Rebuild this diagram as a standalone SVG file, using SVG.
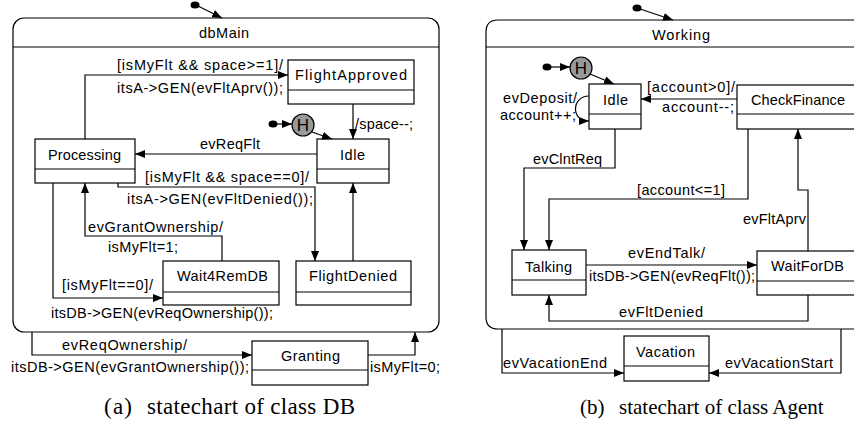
<svg xmlns="http://www.w3.org/2000/svg" width="854" height="431" viewBox="0 0 854 431">
<defs>
<marker id="arr" markerWidth="10" markerHeight="8" refX="10" refY="4" orient="auto" markerUnits="userSpaceOnUse">
<path d="M0,0 L10,4 L0,8 z" fill="#000"/>
</marker>
<style>
.box{fill:#fff;stroke:#000;stroke-width:1.2}
.ln{fill:none;stroke:#000;stroke-width:1.2}
.c{fill:none;stroke:#000;stroke-width:1.2;marker-end:url(#arr)}
.t{font-family:"Liberation Sans",Arial,sans-serif;font-size:14.5px;fill:#000}
.h{font-family:"Liberation Sans",Arial,sans-serif;font-size:17px;fill:#000}
.cap{font-family:"Liberation Serif","Times New Roman",serif;fill:#000}
.dot{fill:#000}
.hist{fill:#999;stroke:#000;stroke-width:1.2}
</style>
</defs>
<rect width="854" height="431" fill="#fff"/>

<!-- Left: statechart of class DB -->
<g id="dbMain">
<rect class="box" x="13" y="18" width="426" height="314" rx="11"/>
<path class="ln" d="M13 47 H439"/>
<text class="t" x="199" y="38" textLength="50">dbMain</text>
</g>
<g id="FlightApproved">
<rect class="box" x="288" y="60" width="126" height="44"/>
<path class="ln" d="M288 90 H414"/>
<text class="t" x="295" y="80" textLength="112">FlightApproved</text>
</g>
<g id="IdleDB">
<rect class="box" x="317" y="139" width="72" height="44"/>
<path class="ln" d="M317 169 H389"/>
<text class="t" x="340" y="160" textLength="25">Idle</text>
</g>
<g id="Processing">
<rect class="box" x="35" y="139" width="100" height="44"/>
<path class="ln" d="M35 169 H135"/>
<text class="t" x="48" y="160" textLength="73">Processing</text>
</g>
<g id="Wait4RemDB">
<rect class="box" x="163" y="261" width="116" height="44"/>
<path class="ln" d="M163 292 H279"/>
<text class="t" x="177" y="281" textLength="91">Wait4RemDB</text>
</g>
<g id="FlightDenied">
<rect class="box" x="296" y="261" width="115" height="44"/>
<path class="ln" d="M296 292 H411"/>
<text class="t" x="309" y="281" textLength="88">FlightDenied</text>
</g>
<g id="Granting">
<rect class="box" x="252" y="341" width="116" height="44"/>
<path class="ln" d="M252 370 H368"/>
<text class="t" x="281" y="361" textLength="59">Granting</text>
</g>
<g id="HistDB">
<ellipse class="dot" cx="273" cy="124" rx="4.5" ry="3.5"/>
<circle class="hist" cx="303" cy="125" r="11"/>
<text class="h" x="303" y="131" text-anchor="middle">H</text>
</g>
<g id="InitDB">
<ellipse class="dot" cx="195" cy="5" rx="4.5" ry="3.5"/>
</g>

<!-- Right: statechart of class Agent -->
<g id="Working">
<path class="box" d="M870 20 H498 Q486 20 486 32 V317 Q486 329 498 329 H870"/>
<path class="ln" d="M486 47 H870"/>
<text class="t" x="652" y="40" textLength="58">Working</text>
</g>
<g id="IdleAgent">
<rect class="box" x="589" y="84" width="52" height="45"/>
<path class="ln" d="M589 114 H641"/>
<text class="t" x="603" y="105" textLength="25">Idle</text>
</g>
<g id="CheckFinance">
<rect class="box" x="737" y="85" width="124" height="44"/>
<path class="ln" d="M737 114 H861"/>
<text class="t" x="751" y="105" textLength="94">CheckFinance</text>
</g>
<g id="Talking">
<rect class="box" x="512" y="250" width="74" height="45"/>
<path class="ln" d="M512 280 H586"/>
<text class="t" x="525" y="272" textLength="47">Talking</text>
</g>
<g id="WaitForDB">
<rect class="box" x="757" y="251" width="104" height="44"/>
<path class="ln" d="M757 281 H861"/>
<text class="t" x="771" y="271" textLength="73">WaitForDB</text>
</g>
<g id="Vacation">
<rect class="box" x="624" y="336" width="85" height="45"/>
<path class="ln" d="M624 366 H709"/>
<text class="t" x="636" y="357" textLength="59">Vacation</text>
</g>
<g id="HistAgent">
<ellipse class="dot" cx="547" cy="67" rx="4.5" ry="3.5"/>
<circle class="hist" cx="581" cy="68" r="11"/>
<text class="h" x="581" y="74" text-anchor="middle">H</text>
</g>
<g id="InitAgent">
<ellipse class="dot" cx="637" cy="8" rx="4.5" ry="3.5"/>
</g>

<g id="connectors">
<!-- left -->
<path class="c" d="M198 6 L222 18"/>
<path class="c" d="M85 139 V75 H288"/>
<path class="c" d="M353 104 V139"/>
<path class="c" d="M277 124 H292"/>
<path class="c" d="M312 132 L332 139"/>
<path class="c" d="M317 154 H135"/>
<path class="c" d="M118 183 V187 H315 V261"/>
<path class="c" d="M353 261 V183"/>
<path class="c" d="M222 261 V236 H85 V183"/>
<path class="c" d="M53 183 V298 H163"/>
<path class="c" d="M32 332 V355 H252"/>
<path class="c" d="M368 355 H415 V332"/>
<!-- right -->
<path class="c" d="M640 9 L673 20"/>
<path class="c" d="M551 67 H570"/>
<path class="c" d="M590 74 L614 84"/>
<path class="c" d="M589 96 C572 96 570 121 589 121"/>
<path class="c" d="M737 99 H641"/>
<path class="c" d="M615 129 V168 H524 V250"/>
<path class="c" d="M748 129 V199 H549 V250"/>
<path class="c" d="M586 265 H757"/>
<path class="c" d="M808 251 V190 H798 V129"/>
<path class="c" d="M808 295 V321 H549 V295"/>
<path class="c" d="M502 329 V373 H624"/>
<path class="c" d="M841 329 V373 H709"/>
</g>

<g id="labels">
<text class="t" x="117" y="70" textLength="166">[isMyFlt &amp;&amp; space&gt;=1]/</text>
<text class="t" x="117" y="93" textLength="166">itsA-&gt;GEN(evFltAprv());</text>
<text class="t" x="355" y="129" textLength="58">/space--;</text>
<text class="t" x="200" y="149" textLength="60">evReqFlt</text>
<text class="t" x="145" y="182" textLength="164">[isMyFlt &amp;&amp; space==0]/</text>
<text class="t" x="127" y="204" textLength="186">itsA-&gt;GEN(evFltDenied());</text>
<text class="t" x="88" y="232" textLength="135">evGrantOwnership/</text>
<text class="t" x="108" y="252" textLength="70">isMyFlt=1;</text>
<text class="t" x="62" y="290" textLength="91">[isMyFlt==0]/</text>
<text class="t" x="51" y="318" textLength="222">itsDB-&gt;GEN(evReqOwnership());</text>
<text class="t" x="62" y="350" textLength="125">evReqOwnership/</text>
<text class="t" x="11" y="372" textLength="238">itsDB-&gt;GEN(evGrantOwnership());</text>
<text class="t" x="370" y="372" textLength="70">isMyFlt=0;</text>

<text class="t" x="503" y="103" textLength="74">evDeposit/</text>
<text class="t" x="500" y="120" textLength="76">account++;</text>
<text class="t" x="647" y="92" textLength="88">[account&gt;0]/</text>
<text class="t" x="662" y="112" textLength="72">account--;</text>
<text class="t" x="533" y="164" textLength="69">evClntReq</text>
<text class="t" x="637" y="195" textLength="88">[account&lt;=1]</text>
<text class="t" x="628" y="258" textLength="77">evEndTalk/</text>
<text class="t" x="589" y="281" textLength="166">itsDB-&gt;GEN(evReqFlt());</text>
<text class="t" x="743" y="224" textLength="63">evFltAprv</text>
<text class="t" x="619" y="317" textLength="84">evFltDenied</text>
<text class="t" x="503" y="368" textLength="104">evVacationEnd</text>
<text class="t" x="725" y="368" textLength="108">evVacationStart</text>

<text class="cap" y="414" font-size="23"><tspan x="104" textLength="28">(a)</tspan><tspan x="147" textLength="208">statechart of class DB</tspan></text>
<text class="cap" y="414" font-size="21"><tspan x="580">(b)</tspan><tspan x="619">statechart of class Agent</tspan></text>
</g>
</svg>
